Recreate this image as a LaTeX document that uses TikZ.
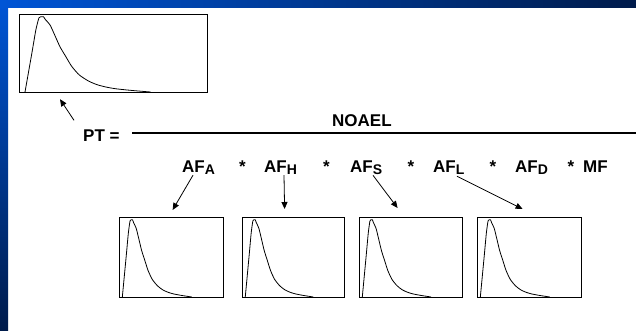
\documentclass[tikz,border=0pt]{standalone}
\usepackage{fontspec}
\setmainfont{Liberation Sans}
\usetikzlibrary{arrows.meta}

\definecolor{frameblue}{RGB}{0,85,214}
\definecolor{framenavy}{RGB}{0,27,75}

\newcommand{\afsub}[1]{\raisebox{-2pt}{\fontsize{14}{16}\selectfont #1}}

\begin{document}
\begin{tikzpicture}[x=1pt, y=-1pt,
    lbl/.style={font=\bfseries\fontsize{17}{20}\selectfont, inner sep=0, anchor=base west},
    times/.style={font=\bfseries\fontsize{17}{20}\selectfont, inner sep=0, anchor=base},
    plotbox/.style={draw, line width=1.2pt, fill=white, inner sep=0},
    density/.style={line width=0.8pt, line join=round},
    pointer/.style={line width=0.8pt, -{Triangle[length=7pt,width=6pt]}}]
                \newcommand{\distbox}[5]{%
                    \node[plotbox, minimum width=#4pt, minimum height=#5pt, anchor=north west] (#1) at (#2,#3) {};
                    \begin{scope}[shift={(#2,#3+#5)}, xscale=#4, yscale=-#5]
                        \draw[density] plot[smooth, tension=0.4] coordinates {
                            (0.032,0) (0.07,0.52) (0.09,0.8) (0.106,0.95) (0.115,0.965)
                            (0.13,0.965) (0.14,0.93) (0.165,0.86) (0.19,0.73) (0.218,0.58)
                            (0.25,0.45) (0.28,0.33) (0.32,0.22) (0.37,0.14) (0.42,0.09)
                            (0.47,0.06) (0.52,0.04) (0.60,0.02) (0.70,0)};
                    \end{scope}
                }

                % Page with frame bars
                \useasboundingbox (0,0) rectangle (636,330);
                \fill[white] (0,0) rectangle (636,330);
                \shade[top color=frameblue, bottom color=framenavy] (0,0) rectangle (8,330);
                \shade[left color=frameblue, right color=framenavy] (0,0) rectangle (636,7);

                % Draw distributions
                \distbox{pdist}{19}{14}{188}{78}
                \distbox{dista}{119}{217}{104}{80}
                \distbox{disth}{242}{217}{102}{80}
                \distbox{dists}{359}{217}{103}{80}
                \distbox{distl}{477}{217}{104}{80}

                % Draw formula
                \node[lbl] (pt) at (83,141.7) {PT =};
                \node[lbl] (noael) at (332,126) {NOAEL};
                \draw[line width=2pt] (132,133) -- (636,133);
                \node[lbl] (afa) at (182,172) {AF\afsub{A}};
                \node[times] (t1) at (242.5,172) {*};
                \node[lbl] (afh) at (264,172) {AF\afsub{H}};
                \node[times] (t2) at (326.5,172) {*};
                \node[lbl] (afs) at (350,172) {AF\afsub{S}};
                \node[times] (t3) at (411,172) {*};
                \node[lbl] (afl) at (433,172) {AF\afsub{L}};
                \node[times] (t4) at (493,172) {*};
                \node[lbl] (afd) at (515,172) {AF\afsub{D}};
                \node[times] (t5) at (571,172) {*};
                \node[lbl] (mf) at (583,172) {MF};

                % Draw pointers
                \draw[pointer] ([shift={(-9pt,9.5pt)}]pt.north west) -- ([shift={(41pt,-6pt)}]pdist.south west);
                \draw[pointer] ([shift={(11pt,-1pt)}]afa.south west) -- ([shift={(1pt,7pt)}]dista.north);
                \draw[pointer] ([shift={(20pt,-1pt)}]afh.south west) -- ([shift={(-9pt,8pt)}]disth.north);
                \draw[pointer] ([shift={(23pt,-1pt)}]afs.south west) -- ([shift={(-13.5pt,9pt)}]dists.north);
                \draw[pointer] ([shift={(24pt,-2pt)}]afl.south west) -- ([shift={(-7pt,8pt)}]distl.north);
\end{tikzpicture}
\end{document}
